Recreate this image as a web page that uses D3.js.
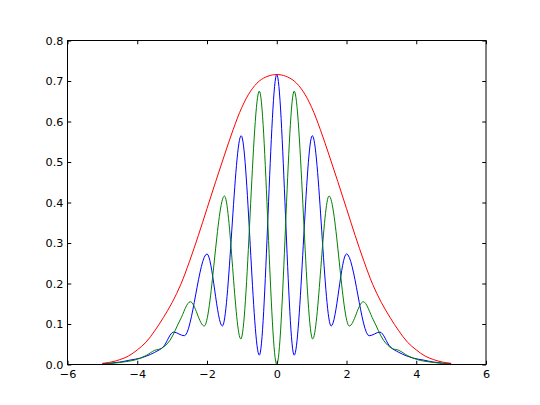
<!DOCTYPE html>
<html>
<head>
<meta charset="utf-8">
<script src="https://cdn.jsdelivr.net/npm/d3@7/dist/d3.min.js"></script>
<style>
  html, body { margin: 0; padding: 0; background: #fff; }
  svg { display: block; }
</style>
</head>
<body>
<svg id="chart" width="540" height="405"></svg>
<script>
// ---- data ----
const xTicks = [-6, -4, -2, 0, 2, 4, 6];
const yTicks = [0.0, 0.1, 0.2, 0.3, 0.4, 0.5, 0.6, 0.7, 0.8];

const blueX = [-5, -4.5, -4.2, -3.9, -3.73, -3.5, -3.25, -2.96, -2.65, -2.0, -1.56, -1.02, -0.5, 0,
               0.5, 1.02, 1.56, 2.0, 2.65, 2.96, 3.25, 3.5, 3.73, 3.9, 4.2, 4.5, 5];
const blueY = [0.002, 0.006, 0.011, 0.016, 0.021, 0.030, 0.044, 0.080, 0.071, 0.273, 0.095, 0.565, 0.023, 0.716,
               0.023, 0.565, 0.095, 0.273, 0.071, 0.080, 0.044, 0.030, 0.021, 0.016, 0.011, 0.006, 0.002];

const greenX = [-5, -4.5, -4.0, -3.75, -3.5, -3.3, -3.06, -2.77, -2.48, -2.08, -1.5, -1.03, -0.5, 0,
                0.5, 1.03, 1.5, 2.08, 2.48, 2.77, 3.06, 3.3, 3.5, 3.75, 4.0, 4.5, 5];
const greenY = [0.001, 0.005, 0.013, 0.022, 0.035, 0.040, 0.060, 0.110, 0.155, 0.095, 0.416, 0.063, 0.675, 0.0,
                0.675, 0.063, 0.416, 0.095, 0.155, 0.110, 0.060, 0.040, 0.035, 0.022, 0.013, 0.005, 0.001];

const redX = [-5, -4.75, -4.5, -4.25, -4, -3.75, -3.5, -3.25, -3, -2.75, -2.5, -2.25, -2, -1.75, -1.5, -1.25, -1, -0.75, -0.5, -0.25, 0,
              0.25, 0.5, 0.75, 1, 1.25, 1.5, 1.75, 2, 2.25, 2.5, 2.75, 3, 3.25, 3.5, 3.75, 4, 4.25, 4.5, 4.75, 5];
const redY = [0.003, 0.006, 0.012, 0.021, 0.036, 0.055, 0.083, 0.116, 0.153, 0.198, 0.255, 0.318, 0.385, 0.452, 0.517, 0.580, 0.635, 0.675, 0.700, 0.712, 0.716,
              0.712, 0.700, 0.675, 0.635, 0.580, 0.517, 0.452, 0.385, 0.318, 0.255, 0.198, 0.153, 0.116, 0.083, 0.055, 0.036, 0.021, 0.012, 0.006, 0.003];

// ---- layout ----
const L = 67.5, R = 486, T = 40.5, B = 364.5;
const svg = d3.select("#chart");

const x = d3.scaleLinear().domain([-6, 6]).range([L, R]);
const y = d3.scaleLinear().domain([0, 0.8]).range([B, T]);

const lineFor = curve => d3.line()
  .x(d => x(d[0]))
  .y(d => y(d[1]))
  .curve(curve);

const plot = svg.append("g");
const series = [
  {xs: blueX, ys: blueY, color: "#0000ff", curve: d3.curveMonotoneX},
  {xs: greenX, ys: greenY, color: "#008000", curve: d3.curveMonotoneX},
  {xs: redX, ys: redY, color: "#ff0000", curve: d3.curveCatmullRom.alpha(0.5)}
];
series.forEach(s => {
  plot.append("path")
    .datum(s.xs.map((v, i) => [v, s.ys[i]]))
    .attr("d", lineFor(s.curve))
    .attr("fill", "none")
    .attr("stroke", s.color)
    .attr("stroke-width", 1);
});

const font = "'DejaVu Sans', sans-serif";
const tick = 3.75;

const gx = svg.append("g").attr("transform", `translate(0,${B})`)
  .call(d3.axisBottom(x).tickValues(xTicks).tickSize(-tick).tickPadding(6).tickFormat(d3.format("d")));
const gxt = svg.append("g").attr("transform", `translate(0,${T})`)
  .call(d3.axisTop(x).tickValues(xTicks).tickSize(-tick).tickFormat(""));
const gy = svg.append("g").attr("transform", `translate(${L},0)`)
  .call(d3.axisLeft(y).tickValues(yTicks).tickSize(-tick).tickPadding(4).tickFormat(d3.format(".1f")));
const gyr = svg.append("g").attr("transform", `translate(${R},0)`)
  .call(d3.axisRight(y).tickValues(yTicks).tickSize(-tick).tickFormat(""));

[gx, gxt, gy, gyr].forEach(g => {
  g.select(".domain").remove();
  g.selectAll(".tick line").attr("stroke", "#000").attr("stroke-width", 1);
  g.selectAll("text").attr("font-family", font).attr("font-size", "11.25px").attr("fill", "#000");
});

svg.append("rect")
  .attr("x", L).attr("y", T)
  .attr("width", R - L).attr("height", B - T)
  .attr("fill", "none").attr("stroke", "#000").attr("stroke-width", 1);
</script>
</body>
</html>
